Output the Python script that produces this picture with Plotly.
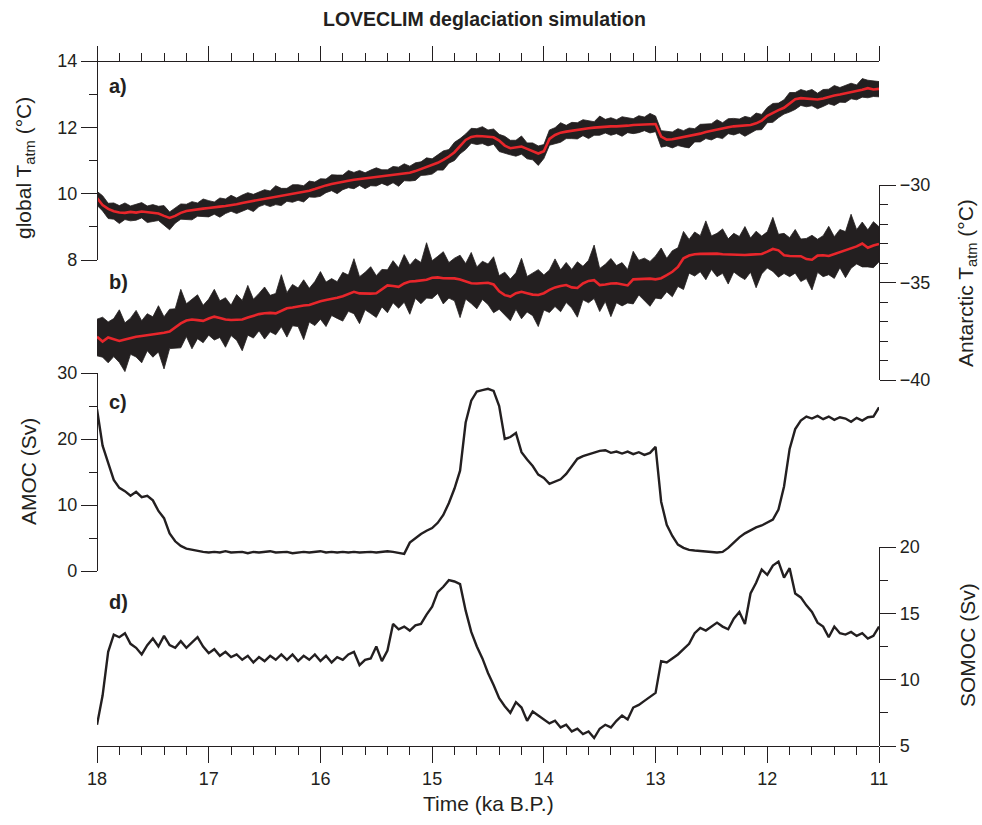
import numpy as np
import plotly.graph_objects as go

# ---------------------------------------------------------------
# LOVECLIM deglaciation simulation, 18 -> 11 ka B.P.
# Every series is sampled on a 50-year grid (141 samples).
# ---------------------------------------------------------------
time_ka = np.round(np.linspace(18.0, 11.0, 141), 2)

# a) global atmospheric temperature, 100-yr smoothed (degC)
global_t_smooth = [
    9.87, 9.66, 9.54, 9.47, 9.43, 9.42, 9.45, 9.43, 9.46, 9.44,
    9.41, 9.40, 9.33, 9.27, 9.33, 9.42, 9.48, 9.51, 9.53, 9.55,
    9.57, 9.58, 9.61, 9.63, 9.65, 9.68, 9.72, 9.75, 9.80, 9.83,
    9.86, 9.88, 9.91, 9.94, 9.97, 10.00, 10.03, 10.06, 10.09, 10.14,
    10.20, 10.25, 10.29, 10.33, 10.36, 10.39, 10.42, 10.44, 10.45, 10.47,
    10.49, 10.51, 10.53, 10.55, 10.57, 10.60, 10.63, 10.68, 10.74, 10.80,
    10.86, 10.93, 11.02, 11.12, 11.25, 11.43, 11.62, 11.71, 11.74, 11.73,
    11.72, 11.70, 11.60, 11.45, 11.37, 11.40, 11.42, 11.35, 11.27, 11.21,
    11.28, 11.65, 11.77, 11.84, 11.87, 11.90, 11.93, 11.95, 11.97, 11.99,
    12.01, 12.02, 12.03, 12.03, 12.03, 12.05, 12.07, 12.08, 12.10, 12.11,
    12.10, 11.72, 11.63, 11.64, 11.67, 11.70, 11.73, 11.77, 11.81, 11.86,
    11.90, 11.93, 11.96, 12.00, 12.03, 12.05, 12.06, 12.07, 12.12, 12.20,
    12.35, 12.44, 12.52, 12.59, 12.72, 12.85, 12.88, 12.87, 12.85, 12.84,
    12.87, 12.92, 12.96, 12.99, 13.02, 13.05, 13.08, 13.13, 13.18, 13.14,
    13.16,
]
# a) spread of the annual values above / below the smoothed curve (degC)
global_t_above = [
    0.20, 0.28, 0.17, 0.25, 0.21, 0.30, 0.18, 0.24, 0.27, 0.19,
    0.26, 0.22, 0.31, 0.18, 0.23, 0.27, 0.20, 0.25, 0.19, 0.29,
    0.22, 0.17, 0.26, 0.21, 0.30, 0.19, 0.24, 0.28, 0.18, 0.23,
    0.26, 0.20, 0.33, 0.22, 0.19, 0.27, 0.24, 0.18, 0.29, 0.21,
    0.25, 0.19, 0.28, 0.23, 0.20, 0.31, 0.22, 0.26, 0.18, 0.24,
    0.29, 0.21, 0.19, 0.27, 0.23, 0.30, 0.20, 0.25, 0.22, 0.28,
    0.19, 0.24, 0.27, 0.21, 0.30, 0.23, 0.18, 0.26, 0.22, 0.29,
    0.20, 0.25, 0.19, 0.28, 0.24, 0.21, 0.32, 0.18, 0.26, 0.23,
    0.20, 0.27, 0.22, 0.30, 0.19, 0.25, 0.21, 0.28, 0.24, 0.18,
    0.33, 0.22, 0.26, 0.20, 0.29, 0.23, 0.19, 0.27, 0.21, 0.31,
    0.24, 0.18, 0.26, 0.22, 0.29, 0.20, 0.25, 0.19, 0.28, 0.23,
    0.21, 0.30, 0.18, 0.26, 0.24, 0.20, 0.27, 0.22, 0.31, 0.19,
    0.25, 0.28, 0.21, 0.24, 0.33, 0.20, 0.26, 0.22, 0.29, 0.19,
    0.27, 0.23, 0.30, 0.21, 0.25, 0.28, 0.20, 0.34, 0.24, 0.27,
    0.22,
]
global_t_below = [
    0.22, 0.18, 0.29, 0.24, 0.33, 0.20, 0.27, 0.23, 0.19, 0.31,
    0.25, 0.21, 0.28, 0.36, 0.22, 0.19, 0.26, 0.30, 0.21, 0.24,
    0.27, 0.20, 0.32, 0.23, 0.18, 0.28, 0.25, 0.21, 0.34, 0.22,
    0.19, 0.27, 0.24, 0.30, 0.20, 0.26, 0.23, 0.31, 0.19, 0.25,
    0.28, 0.22, 0.20, 0.33, 0.24, 0.21, 0.27, 0.19, 0.30, 0.23,
    0.26, 0.20, 0.29, 0.22, 0.35, 0.21, 0.25, 0.28, 0.19, 0.24,
    0.27, 0.22, 0.31, 0.20, 0.25, 0.23, 0.29, 0.19, 0.26, 0.22,
    0.28, 0.21, 0.33, 0.24, 0.20, 0.27, 0.23, 0.30, 0.25, 0.36,
    0.22, 0.19, 0.26, 0.29, 0.21, 0.24, 0.28, 0.20, 0.31, 0.23,
    0.25, 0.19, 0.27, 0.22, 0.30, 0.21, 0.26, 0.24, 0.20, 0.28,
    0.23, 0.32, 0.19, 0.26, 0.22, 0.29, 0.35, 0.21, 0.25, 0.20,
    0.28, 0.23, 0.30, 0.19, 0.26, 0.22, 0.33, 0.24, 0.20, 0.27,
    0.21, 0.29, 0.23, 0.19, 0.26, 0.31, 0.22, 0.25, 0.20, 0.28,
    0.24, 0.21, 0.30, 0.23, 0.27, 0.19, 0.25, 0.22, 0.29, 0.21,
    0.24,
]

# b) Antarctic atmospheric temperature, smoothed (degC)
antarctic_t_smooth = [
    -37.78, -38.03, -37.82, -37.90, -38.00, -37.92, -37.83, -37.78, -37.74, -37.70,
    -37.68, -37.64, -37.58, -37.52, -37.30, -37.10, -36.95, -36.90, -36.93, -36.97,
    -36.85, -36.75, -36.82, -36.90, -36.92, -36.90, -36.90, -36.80, -36.70, -36.62,
    -36.58, -36.56, -36.58, -36.45, -36.32, -36.28, -36.22, -36.18, -36.15, -36.05,
    -35.96, -35.90, -35.85, -35.78, -35.70, -35.58, -35.48, -35.56, -35.58, -35.57,
    -35.55, -35.35, -35.15, -35.18, -35.22, -35.05, -34.95, -34.93, -34.91, -34.86,
    -34.76, -34.74, -34.78, -34.80, -34.79, -34.85, -34.95, -35.04, -35.05, -35.03,
    -35.01, -35.10, -35.45, -35.65, -35.72, -35.55, -35.48, -35.55, -35.62, -35.64,
    -35.55, -35.38, -35.25, -35.18, -35.13, -35.25, -35.28, -35.05, -34.92, -34.88,
    -35.13, -35.10, -35.05, -35.04, -35.10, -35.15, -34.84, -34.82, -34.80, -34.80,
    -34.84, -34.78, -34.62, -34.45, -34.20, -33.76, -33.62, -33.55, -33.53, -33.52,
    -33.51, -33.52, -33.55, -33.56, -33.58, -33.60, -33.59, -33.57, -33.55, -33.54,
    -33.42, -33.28, -33.35, -33.60, -33.64, -33.64, -33.65, -33.80, -33.83, -33.62,
    -33.60, -33.64, -33.55, -33.42, -33.35, -33.25, -33.15, -33.00, -33.22, -33.10,
    -33.02,
]
# b) spread of the annual values above / below the smoothed curve (degC)
antarctic_t_above = [
    0.90, 1.25, 0.80, 1.05, 1.60, 0.85, 1.00, 1.35, 0.78, 1.10,
    0.92, 1.45, 0.82, 1.15, 0.95, 1.75, 0.86, 1.05, 1.30, 0.80,
    1.00, 1.40, 0.88, 1.12, 0.76, 1.28, 0.98, 1.65, 0.84, 1.06,
    1.35, 0.90, 1.02, 1.85, 0.80, 1.18, 0.94, 1.32, 0.85, 1.10,
    1.52, 0.92, 1.05, 0.82, 1.22, 0.96, 1.70, 0.86, 1.10, 1.38,
    0.90, 1.02, 0.80, 1.30, 0.98, 1.48, 0.84, 1.15, 0.94, 1.90,
    0.88, 1.08, 1.36, 0.82, 1.04, 1.25, 0.92, 1.58, 0.85, 1.12,
    0.96, 1.42, 0.80, 1.18, 0.90, 1.05, 1.72, 0.86, 1.10, 1.30,
    0.94, 1.02, 1.46, 0.83, 1.16, 0.92, 1.34, 0.88, 1.06, 1.80,
    0.85, 1.03, 1.28, 0.91, 1.12, 0.82, 1.44, 0.96, 1.05, 0.88,
    1.20, 1.55, 0.86, 1.08, 0.98, 1.38, 0.83, 1.14, 0.93, 1.68,
    0.90, 1.04, 1.30, 0.80, 1.10, 0.96, 1.46, 0.85, 1.18, 0.92,
    1.02, 1.62, 0.82, 1.12, 0.94, 1.36, 0.88, 1.06, 1.25, 0.84,
    1.00, 1.52, 0.90, 1.14, 0.96, 1.75, 0.86, 1.10, 0.92, 1.22,
    0.88,
]
antarctic_t_below = [
    0.98, 0.80, 1.30, 0.90, 1.10, 1.65, 0.85, 1.04, 1.38, 0.80,
    1.15, 0.92, 1.85, 0.87, 1.08, 1.25, 0.82, 1.50, 0.95, 1.12,
    0.85, 1.20, 1.00, 1.42, 0.80, 1.06, 1.60, 0.90, 1.15, 0.86,
    1.32, 0.97, 1.10, 0.82, 1.48, 0.94, 1.04, 1.75, 0.88, 1.16,
    0.92, 1.36, 0.84, 1.06, 1.28, 0.90, 1.12, 1.55, 0.82, 1.02,
    1.24, 0.90, 1.40, 0.86, 1.10, 0.96, 1.68, 0.88, 1.18, 0.94,
    1.06, 0.82, 1.32, 1.00, 1.15, 1.95, 0.90, 1.04, 1.30, 0.84,
    1.12, 1.45, 0.92, 1.02, 1.24, 0.82, 1.38, 0.96, 1.08, 1.62,
    0.86, 1.16, 0.98, 1.32, 0.90, 1.06, 1.50, 0.84, 1.12, 0.94,
    1.36, 0.88, 1.70, 1.00, 1.10, 0.90, 1.26, 0.82, 1.15, 1.42,
    0.96, 1.06, 0.86, 1.28, 1.00, 1.60, 0.90, 1.12, 0.92, 1.34,
    0.82, 1.18, 0.98, 1.52, 0.88, 1.08, 1.26, 0.90, 1.72, 1.02,
    0.84, 1.15, 1.38, 0.94, 1.06, 0.88, 1.30, 1.00, 1.55, 0.86,
    1.10, 0.96, 1.24, 0.82, 1.40, 1.02, 0.90, 1.20, 0.98, 1.14,
    0.92,
]

# c) Atlantic meridional overturning (Sv)
amoc_sv = [
    24.5, 19.0, 16.4, 13.8, 12.6, 12.1, 11.4, 12.0, 11.2, 11.4,
    10.7, 9.1, 8.0, 5.7, 4.5, 3.8, 3.4, 3.2, 3.0, 2.9,
    2.8, 2.9, 2.8, 3.0, 2.8, 2.9, 2.9, 2.7, 2.9, 2.8,
    2.9, 3.0, 2.8, 2.8, 2.9, 2.7, 2.8, 2.9, 2.8, 2.9,
    3.0, 2.8, 2.9, 2.8, 2.9, 2.8, 2.9, 2.8, 2.9, 2.9,
    2.8, 2.9, 3.0, 2.9, 2.8, 2.6, 4.3, 5.0, 5.6, 6.1,
    6.5, 7.3, 8.5, 10.3, 12.5, 15.2, 22.5, 25.8, 27.2, 27.4,
    27.6, 27.3, 25.0, 20.0, 20.3, 20.9, 18.0, 16.9, 15.9, 14.6,
    14.1, 13.2, 13.6, 13.9, 14.7, 15.9, 17.0, 17.4, 17.7, 18.0,
    18.2, 18.3, 17.9, 18.1, 17.8, 18.1, 17.7, 18.0, 17.6, 17.9,
    18.8, 10.5, 7.0, 5.3, 4.0, 3.5, 3.2, 3.1, 3.0, 2.9,
    2.9, 2.8, 2.9, 3.5, 4.3, 5.1, 5.7, 6.2, 6.6, 6.9,
    7.3, 7.8, 9.3, 12.8, 18.5, 21.5, 22.8, 23.4, 23.1, 23.5,
    23.0, 23.4, 22.9, 23.3, 23.1, 22.6, 23.2, 22.8, 23.3, 23.4,
    24.8,
]

# d) Southern Ocean meridional overturning (Sv)
somoc_sv = [
    6.6, 8.8, 12.1, 13.4, 13.2, 13.5, 12.7, 12.4, 11.9, 12.6,
    13.1, 12.5, 13.3, 12.6, 12.4, 12.9, 12.4, 12.8, 13.2, 12.5,
    12.0, 12.3, 11.8, 12.1, 11.7, 11.9, 11.5, 11.8, 11.3, 11.7,
    11.4, 11.8, 11.5, 11.9, 11.5, 11.9, 11.4, 11.8, 11.5, 11.9,
    11.4, 11.8, 11.3, 11.7, 11.5, 11.9, 12.1, 11.1, 11.5, 11.6,
    12.5, 11.4, 12.2, 14.2, 13.8, 14.0, 13.7, 14.1, 14.2, 14.9,
    15.5, 16.6, 17.0, 17.5, 17.4, 17.2, 15.2, 13.6, 12.5, 11.6,
    10.5, 9.6, 8.6, 8.0, 7.5, 8.3, 7.9, 6.9, 7.6, 7.3,
    7.0, 6.7, 6.9, 6.4, 6.6, 6.1, 6.3, 5.9, 6.1, 5.6,
    6.3, 6.6, 6.4, 6.9, 7.3, 7.0, 7.9, 8.1, 8.4, 8.7,
    9.0, 11.4, 11.3, 11.6, 11.9, 12.3, 12.7, 13.5, 13.9, 13.7,
    14.0, 14.3, 14.0, 13.8, 14.6, 15.1, 14.2, 16.5, 17.3, 18.3,
    17.9, 18.6, 18.9, 17.7, 18.4, 16.5, 16.2, 15.6, 15.1, 14.3,
    14.0, 13.2, 14.0, 13.5, 13.4, 13.6, 13.3, 13.5, 13.1, 13.3,
    14.0,
]

for name, series in [("global_t_smooth", global_t_smooth), ("global_t_above", global_t_above),
                     ("global_t_below", global_t_below), ("antarctic_t_smooth", antarctic_t_smooth),
                     ("antarctic_t_above", antarctic_t_above), ("antarctic_t_below", antarctic_t_below),
                     ("amoc_sv", amoc_sv), ("somoc_sv", somoc_sv)]:
    if len(series) != len(time_ka):
        raise ValueError(f"{name}: {len(series)} samples, expected {len(time_ka)}")

# ---------------------------------------------------------------
# Styling / geometry (pixel frame of the 982 x 825 page)
# ---------------------------------------------------------------
W, H = 982, 825
PLOT_L, PLOT_R, PLOT_T, PLOT_B = 97, 879, 61, 746
INK = "#231f20"
RED = "#e8262b"
FONT = "Liberation Sans, Arial, Helvetica, sans-serif"
TITLE_SIZE = 21


def fx(px):
    return (px - PLOT_L) / (PLOT_R - PLOT_L)


def fy(py):
    return (PLOT_B - py) / (PLOT_B - PLOT_T)


def band(center, above, below):
    c = np.asarray(center)
    hi = c + np.asarray(above)
    lo = c - np.asarray(below)
    xs = np.concatenate([time_ka, time_ka[::-1]])
    ys = np.concatenate([hi, lo[::-1]])
    return xs, ys


fig = go.Figure()

# a) global temperature
xs, ys = band(global_t_smooth, global_t_above, global_t_below)
fig.add_trace(go.Scatter(x=xs, y=ys, fill="toself", fillcolor=INK, mode="lines",
                         line=dict(color=INK, width=0.8), yaxis="y", hoverinfo="skip"))
fig.add_trace(go.Scatter(x=time_ka, y=global_t_smooth, mode="lines",
                         line=dict(color=RED, width=2.6), yaxis="y"))

# b) Antarctic temperature
xs, ys = band(antarctic_t_smooth, antarctic_t_above, antarctic_t_below)
fig.add_trace(go.Scatter(x=xs, y=ys, fill="toself", fillcolor=INK, mode="lines",
                         line=dict(color=INK, width=0.8), yaxis="y2", hoverinfo="skip"))
fig.add_trace(go.Scatter(x=time_ka, y=antarctic_t_smooth, mode="lines",
                         line=dict(color=RED, width=2.6), yaxis="y2"))

# c) AMOC
fig.add_trace(go.Scatter(x=time_ka, y=amoc_sv, mode="lines",
                         line=dict(color=INK, width=2.4), yaxis="y3"))

# d) SOMOC
fig.add_trace(go.Scatter(x=time_ka, y=somoc_sv, mode="lines",
                         line=dict(color=INK, width=2.4), yaxis="y4"))

# carrier for the top time axis
fig.add_trace(go.Scatter(x=[time_ka[0], time_ka[-1]], y=[None, None], mode="lines",
                         xaxis="x2", yaxis="y", hoverinfo="skip"))

tick_font = dict(family=FONT, size=18, color=INK)
common_axis = dict(showline=True, linecolor=INK, linewidth=1.3, ticks="outside",
                   tickcolor=INK, tickwidth=1.3, ticklen=16, showgrid=False,
                   zeroline=False, tickfont=tick_font, fixedrange=True)


def minor(vals=None, dtick=None):
    m = dict(ticks="outside", ticklen=8, tickcolor=INK, tickwidth=1.3, showgrid=False)
    if vals is not None:
        m.update(tickmode="array", tickvals=vals)
    if dtick is not None:
        m.update(dtick=dtick, tick0=11)
    return m


fig.update_layout(
    width=W, height=H,
    margin=dict(l=PLOT_L, r=W - PLOT_R, t=PLOT_T, b=H - PLOT_B, pad=0),
    # transparent panel backgrounds so the stacked, overlapping panels do not hide each other
    paper_bgcolor="white", plot_bgcolor="rgba(0,0,0,0)",
    showlegend=False,
    font=dict(family=FONT, size=18, color=INK),
    xaxis=dict(range=[18, 11], anchor="free", position=0, dtick=1, tick0=11,
               minor=minor(dtick=0.2), **common_axis),
    xaxis2=dict(range=[18, 11], overlaying="x", side="top", anchor="free", position=1,
                dtick=1, tick0=11, showticklabels=False, minor=minor(dtick=0.2),
                **{**common_axis, "ticklen": 15}),
    yaxis=dict(range=[8, 14], domain=[fy(260), 1.0], anchor="free", position=0, side="left",
               tickmode="array", tickvals=[8, 10, 12, 14], minor=minor([9, 11, 13]),
               **common_axis),
    yaxis2=dict(range=[-40, -30], domain=[fy(380), fy(185)], anchor="free", position=1,
                side="right", tickmode="array", tickvals=[-40, -35, -30],
                minor=minor([-39, -38, -37, -36, -34, -33, -32, -31]), **common_axis),
    yaxis3=dict(range=[0, 30], domain=[fy(571), fy(373)], anchor="free", position=0,
                side="left", tickmode="array", tickvals=[0, 10, 20, 30],
                minor=minor([5, 15, 25]), **common_axis),
    yaxis4=dict(range=[5, 20], domain=[0.0, fy(547)], anchor="free", position=1,
                side="right", tickmode="array", tickvals=[5, 10, 15, 20],
                minor=minor([7.5, 12.5, 17.5]), **common_axis),
)

annotations = [
    dict(text="<b>LOVECLIM deglaciation simulation</b>", x=fx(484), y=fy(19),
         font=dict(family=FONT, size=19.5, color=INK)),
    dict(text="Time (ka B.P.)", x=fx(488), y=fy(803),
         font=dict(family=FONT, size=TITLE_SIZE, color=INK)),
    dict(text="global T<sub>atm</sub> (°C)", x=fx(25), y=fy(168), textangle=-90,
         font=dict(family=FONT, size=TITLE_SIZE, color=INK)),
    dict(text="AMOC (Sv)", x=fx(28), y=fy(472), textangle=-90,
         font=dict(family=FONT, size=TITLE_SIZE, color=INK)),
    dict(text="Antarctic T<sub>atm</sub> (°C)", x=fx(967), y=fy(283), textangle=-90,
         font=dict(family=FONT, size=TITLE_SIZE, color=INK)),
    dict(text="SOMOC (Sv)", x=fx(967), y=fy(645), textangle=-90,
         font=dict(family=FONT, size=TITLE_SIZE, color=INK)),
]
for lbl, ypx in [("a)", 86), ("b)", 282), ("c)", 402), ("d)", 602)]:
    annotations.append(dict(text=f"<b>{lbl}</b>", x=fx(107), y=fy(ypx), xanchor="left",
                            font=dict(family=FONT, size=20, color=INK)))
for a in annotations:
    a.setdefault("xanchor", "center")
    a.update(xref="paper", yref="paper", yanchor="middle", showarrow=False)
fig.update_layout(annotations=annotations)

fig.write_html("out.html")
